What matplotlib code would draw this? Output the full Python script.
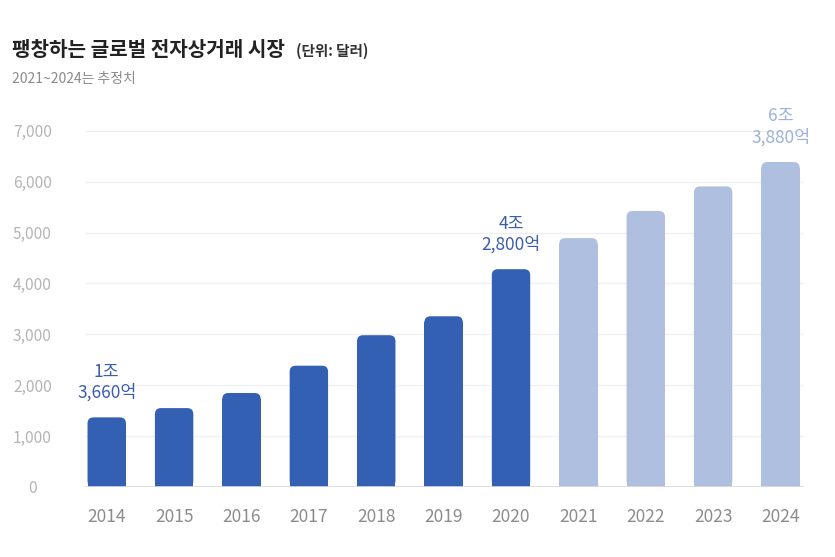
import matplotlib
matplotlib.use("Agg")
import matplotlib.pyplot as plt
from matplotlib.patches import FancyBboxPatch

plt.rcParams['font.family'] = ['Noto Sans CJK KR', 'DejaVu Sans']

years = ["2014", "2015", "2016", "2017", "2018", "2019", "2020", "2021", "2022", "2023", "2024"]
values = [1366, 1548, 1845, 2382, 2982, 3354, 4280, 4891, 5424, 5908, 6388]
estimated = [False, False, False, False, False, False, False, True, True, True, True]
yticks = [0, 1000, 2000, 3000, 4000, 5000, 6000, 7000]
ytick_labels = ["0", "1,000", "2,000", "3,000", "4,000", "5,000", "6,000", "7,000"]
annotations = {0: "1조\n3,660억", 6: "4조\n2,800억", 10: "6조\n3,880억"}

title = "팽창하는 글로벌 전자상거래 시장"
unit = "(단위: 달러)"
subtitle = "2021~2024는 추정치"

dark = "#3460B4"
light = "#AEBFE0"
dark_txt = "#3A5DAE"
light_txt = "#9DB1DC"

fig = plt.figure(figsize=(8.35, 5.57), dpi=100)
ax = fig.add_axes([0.102, 0.126, 0.861, 0.639])

x = list(range(len(years)))
colors = [light if e else dark for e in estimated]
width = 0.57
ax.set_xlim(-0.32, 10.35)
ax.set_ylim(0, 7000)

# rounded-corner sizes (in data units) derived from the axes pixel scale
px_per_x = 0.861 * 835 / (10.35 + 0.32)
px_per_y = 0.639 * 557 / 7000
r_px = 6
rx = r_px / px_per_x
ry = r_px / px_per_y

bars = ax.bar(x, [v - ry for v in values], width=width, color=colors, zorder=3)
for b, c, v in zip(bars, colors, values):
    p = FancyBboxPatch((b.get_x(), 0), b.get_width(), v,
                       boxstyle=f"round,pad=0,rounding_size={rx}",
                       mutation_aspect=ry / rx, facecolor=c, edgecolor='none', zorder=3)
    ax.add_patch(p)

for i, txt in annotations.items():
    ax.annotate(txt, (x[i], values[i]), xytext=(0, 11), textcoords='offset points',
                ha='center', va='bottom', fontsize=12.5, linespacing=1.2,
                color=light_txt if estimated[i] else dark_txt, annotation_clip=False)

ax.set_yticks(yticks)
ax.set_yticklabels(ytick_labels)
for lab in ax.get_yticklabels():
    lab.set_horizontalalignment('center')
ax.tick_params(axis='y', length=0, pad=38, labelsize=11.2, labelcolor='#B4B4B4')
ax.set_xticks(x)
ax.set_xticklabels(years)
ax.tick_params(axis='x', length=0, pad=15, labelsize=12.5, labelcolor='#8C8C8C')

ax.grid(axis='y', color='#F0F0F0', linewidth=1, zorder=0)
ax.axhline(0, color='#DADADA', linewidth=1.2, zorder=4)
for s in ax.spines.values():
    s.set_visible(False)

fig.text(12 / 835, 1 - 50 / 557, title, fontsize=14.5, fontweight='bold', color='#222222', va='center', ha='left')
fig.text(296 / 835, 1 - 51 / 557, unit, fontsize=10.5, fontweight='bold', color='#333333', va='center', ha='left')
fig.text(12 / 835, 1 - 79 / 557, subtitle, fontsize=10, color='#8A8A8A', va='center', ha='left')

fig.savefig("out.png", dpi=100, facecolor='white')
